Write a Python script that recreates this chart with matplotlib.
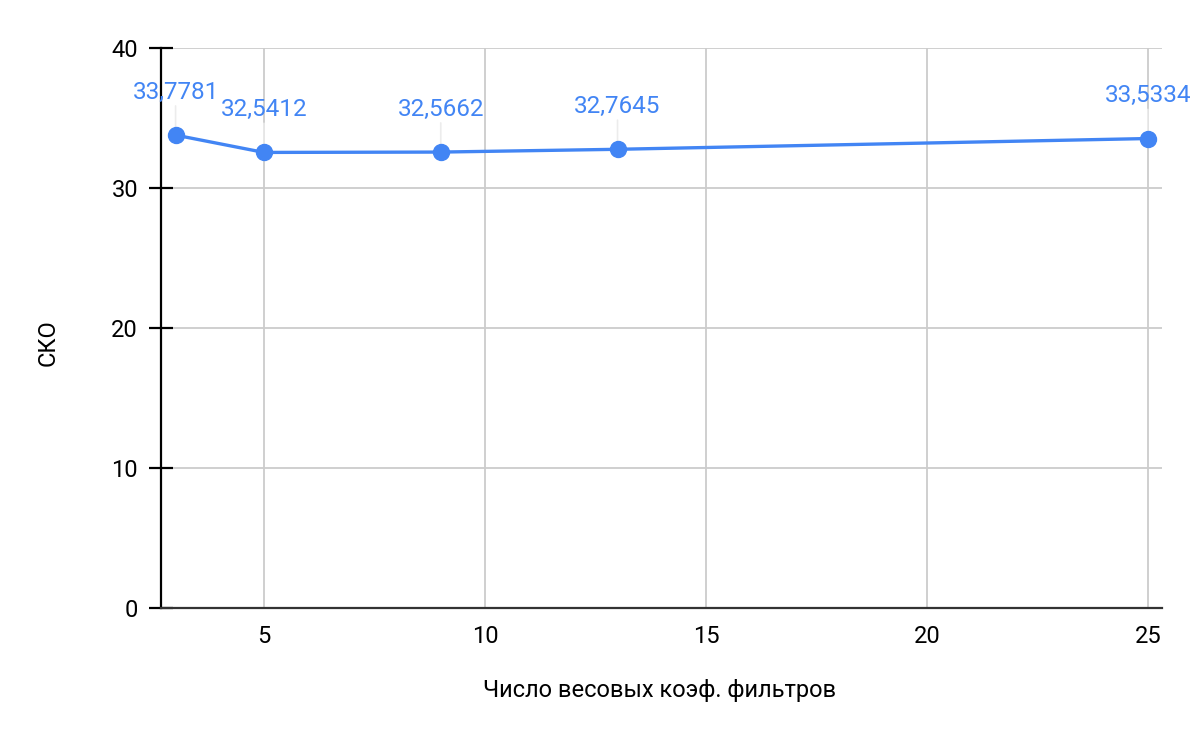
import matplotlib
matplotlib.use("Agg")
import matplotlib.pyplot as plt

# data
n_coef = [3, 5, 9, 13, 25]
sko = [33.7781, 32.5412, 32.5662, 32.7645, 33.5334]
point_labels = ["33,7781", "32,5412", "32,5662", "32,7645", "33,5334"]
x_ticks = [5, 10, 15, 20, 25]
y_ticks = [0, 10, 20, 30, 40]

BLUE = "#4285F4"
GRID = "#cccccc"

plt.rcParams["font.family"] = ["Roboto", "DejaVu Sans"]

fig = plt.figure(figsize=(12, 7.42), dpi=100)
W, H = 1200, 742
ax = fig.add_axes([161 / W, (H - 608) / H, (1162 - 161) / W, (608 - 48) / H])

ax.set_xlim(2.67, 25.32)
ax.set_ylim(0, 40)
ax.set_xticks(x_ticks)
ax.set_yticks(y_ticks)
ax.grid(True, color=GRID, linewidth=1.3)
ax.set_axisbelow(True)

for s in ["top", "right"]:
    ax.spines[s].set_visible(False)
ax.spines["left"].set_color("black")
ax.spines["left"].set_linewidth(1.6)
ax.spines["bottom"].set_color("#333333")
ax.spines["bottom"].set_linewidth(1.6)

ax.tick_params(axis="y", length=17, width=1.6, direction="inout",
               labelsize=17, pad=8, color="black")
ax.tick_params(axis="x", length=0, labelsize=17, pad=12)

# leader lines from labels down to points
for x, y in zip(n_coef, sko):
    ax.annotate("", xy=(x, y), xytext=(0, 21), textcoords="offset points",
                xycoords="data",
                arrowprops=dict(arrowstyle="-", color="#ececec", lw=1.2,
                                shrinkA=0, shrinkB=0))

ax.plot(n_coef, sko, color=BLUE, linewidth=2.4, marker="o",
        markersize=11.5, zorder=3, clip_on=False)

for x, y, lab in zip(n_coef, sko, point_labels):
    ax.annotate(lab, xy=(x, y), xytext=(0, 31), textcoords="offset points",
                ha="center", va="center", color=BLUE, fontsize=17.5)

fig.text(660 / W, 1 - 690 / H, "Число весовых коэф. фильтров",
         ha="center", va="center", fontsize=17)
fig.text(48 / W, 1 - 343 / H, "СКО", ha="center", va="center",
         rotation=90, fontsize=17)

fig.savefig("out.png", dpi=100)
